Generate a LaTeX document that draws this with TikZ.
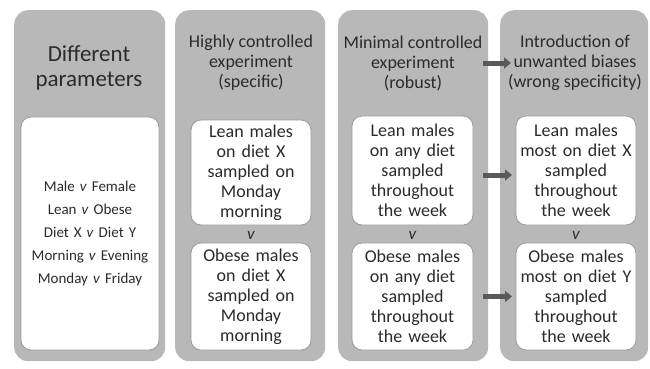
\documentclass[tikz,border=0pt]{standalone}
\usepackage{fontspec}
\setmainfont{Carlito}
\usetikzlibrary{positioning,arrows.meta}
\definecolor{PGray}{HTML}{B8B8B8}
\definecolor{PDark}{HTML}{5A5A5A}
\definecolor{PText}{HTML}{2B2B2B}
\definecolor{PEdge}{HTML}{9A9A9A}
\tikzset{
  colbox/.style={fill=PGray, rounded corners=14pt, minimum width=#1, minimum height=351pt, anchor=north west, inner sep=0pt},
  cellbox/.style={fill=white, draw=PEdge, line width=0.8pt, rounded corners=10pt, minimum width=#1, text width=#1, align=center, inner sep=0pt, text=PText, font=\fontsize{18}{20}\selectfont},
  headtext/.style={align=center, text=PText, font=\fontsize{18}{20}\selectfont},
  vsep/.style={text=PText, font=\fontsize{17}{17}\itshape},
  biasarrow/.style={draw=PDark, line width=5pt, -{Triangle[length=7pt,width=11pt]}}
}
\begin{document}
\begin{tikzpicture}[x=1pt,y=-1pt]
  \useasboundingbox (0,0) rectangle (650,368);
  % grey columns
  \node[colbox=151pt] (col1) at (14,10) {};
  \node[colbox=150pt] (col2) at (175,10) {};
  \node[colbox=150pt] (col3) at (338,10) {};
  \node[colbox=148pt] (col4) at (500,10) {};
  % headings
  \node[headtext, font=\fontsize{23}{25}\selectfont] (head1) at (89,68) {Different\\parameters};
  \node[headtext] (head2) at (251,63) {Highly controlled\\experiment\\(specific)};
  \node[headtext] (head3) at (413,63) {Minimal controlled\\experiment\\(robust)};
  \node[headtext] (head4) at (575,63) {Introduction of\\unwanted biases\\(wrong specificity)};
  % white cells
  \node[cellbox=138pt, minimum height=233pt, font=\fontsize{15}{23}\selectfont] (params) at (90,233.5)
    {Male \textit{v} Female\\Lean \textit{v} Obese\\Diet X \textit{v} Diet Y\\Morning \textit{v} Evening\\Monday \textit{v} Friday};
  \node[cellbox=120pt, minimum height=105pt] (lean2) at (251,172.5) {Lean males\\on diet X\\sampled on\\Monday\\morning};
  \node[cellbox=120pt, minimum height=107pt] (obese2) at (251,296.5) {Obese males\\on diet X\\sampled on\\Monday\\morning};
  \node[cellbox=121pt, minimum height=109pt] (lean3) at (412.5,170.5) {Lean males\\on any diet\\sampled\\throughout\\the week};
  \node[cellbox=121pt, minimum height=107pt] (obese3) at (412.5,296.5) {Obese males\\on any diet\\sampled\\throughout\\the week};
  \node[cellbox=120pt, minimum height=109pt] (lean4) at (576,170.5) {Lean males\\most on diet X\\sampled\\throughout\\the week};
  \node[cellbox=120pt, minimum height=107pt] (obese4) at (576,296.5) {Obese males\\most on diet Y\\sampled\\throughout\\the week};
  % versus marks
  \node[vsep] (vs2) at (251,235) {v};
  \node[vsep] (vs3) at (412.5,235) {v};
  \node[vsep] (vs4) at (576,235) {v};
  % arrows
  \draw[biasarrow] ([xshift=-5pt]col3.east |- head3.center) -- ([xshift=11pt]col4.west |- head3.center);
  \draw[biasarrow] ([xshift=-5pt,yshift=-4.5pt]col3.east |- lean3.center) -- ([xshift=12pt,yshift=-4.5pt]col4.west |- lean3.center);
  \draw[biasarrow] ([xshift=-5pt]col3.east |- obese3.center) -- ([xshift=12pt]col4.west |- obese3.center);
\end{tikzpicture}
\end{document}
